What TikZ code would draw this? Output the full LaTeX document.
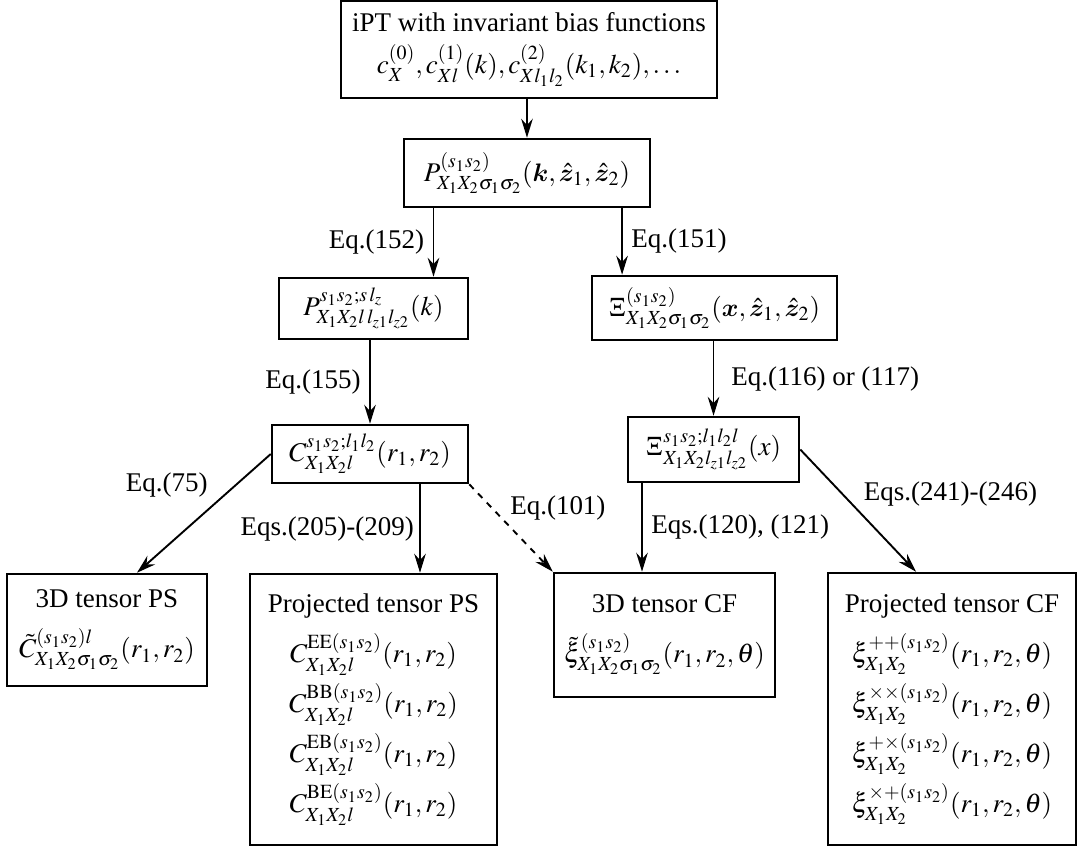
\documentclass[tikz,border=0pt]{standalone}
\usepackage{amsmath}
\usepackage{mathptmx}
\usepackage[no-math]{fontspec}
\setmainfont{Liberation Serif}
\usetikzlibrary{positioning,arrows.meta}
\DeclareMathAlphabet{\mathbfit}{OML}{cmm}{b}{it}

\tikzset{
  box/.style={draw, line width=1.2pt, align=center, inner sep=2pt},
  tallbox/.style={box, font=\fontsize{12.8}{23.7}\selectfont},
  flow/.style={->, line width=0.9pt},
  eqlabel/.style={inner sep=4pt}
}

\begin{document}
\begin{tikzpicture}[font=\fontsize{12.8}{15.4}\selectfont, >={Stealth[length=9pt,width=5.5pt,inset=3pt]}]
	\useasboundingbox (0,0) rectangle (18,-14.133);

	% boxes
	\node[box, minimum width=6.267cm, minimum height=1.617cm, font=\fontsize{12.8}{20}\selectfont] (ipt) at (8.817,-0.825)
		{iPT with invariant bias functions\\ $c_X^{(0)}, c_{Xl}^{(1)}(k), c_{Xl_1l_2}^{(2)}(k_1,k_2),\ldots$};
	\node[box, minimum width=4.1cm, minimum height=1.133cm] (pk) at (8.783,-2.883)
		{$P^{(s_1s_2)}_{X_1X_2\sigma_1\sigma_2}(\mathbfit{k},\hat{\mathbfit{z}}_1,\hat{\mathbfit{z}}_2)$};
	\node[box, minimum width=3.15cm, minimum height=1.017cm] (pl) at (6.225,-5.142)
		{$P^{s_1s_2;s\,l_z}_{X_1X_2l\,l_{z1}l_{z2}}(k)$};
	\node[box, minimum width=4.083cm, minimum height=1.067cm] (xix) at (11.908,-5.133)
		{$\Xi^{(s_1s_2)}_{X_1X_2\sigma_1\sigma_2}(\mathbfit{x},\hat{\mathbfit{z}}_1,\hat{\mathbfit{z}}_2)$};
	\node[box, minimum width=3.267cm, minimum height=0.967cm] (cl) at (6.167,-7.567)
		{$C^{s_1s_2;l_1l_2}_{X_1X_2l}(r_1,r_2)$};
	\node[box, minimum width=2.85cm, minimum height=1.083cm] (xil) at (11.892,-7.492)
		{$\Xi^{s_1s_2;l_1l_2l}_{X_1X_2l_{z1}l_{z2}}(x)$};

	\node[tallbox, minimum width=3.333cm, minimum height=1.867cm] (ps3d) at (1.783,-10.5)
		{3D tensor PS\\ $\tilde{C}^{(s_1s_2)l}_{X_1X_2\sigma_1\sigma_2}(r_1,r_2)$};
	\node[tallbox, minimum width=4.117cm, minimum height=4.517cm] (psproj) at (6.225,-11.825)
		{Projected tensor PS\\
		$C^{\mathrm{EE}(s_1s_2)}_{X_1X_2l}(r_1,r_2)$\\
		$C^{\mathrm{BB}(s_1s_2)}_{X_1X_2l}(r_1,r_2)$\\
		$C^{\mathrm{EB}(s_1s_2)}_{X_1X_2l}(r_1,r_2)$\\
		$C^{\mathrm{BE}(s_1s_2)}_{X_1X_2l}(r_1,r_2)$};
	\node[tallbox, minimum width=3.683cm, minimum height=2.067cm] (cf3d) at (11.075,-10.583)
		{3D tensor CF\\ $\tilde{\xi}^{(s_1s_2)}_{X_1X_2\sigma_1\sigma_2}(r_1,r_2,\theta)$};
	\node[tallbox, minimum width=4.133cm, minimum height=4.533cm] (cfproj) at (15.867,-11.817)
		{Projected tensor CF\\
		$\xi^{++(s_1s_2)}_{X_1X_2}(r_1,r_2,\theta)$\\
		$\xi^{\times\times(s_1s_2)}_{X_1X_2}(r_1,r_2,\theta)$\\
		$\xi^{+\times(s_1s_2)}_{X_1X_2}(r_1,r_2,\theta)$\\
		$\xi^{\times+(s_1s_2)}_{X_1X_2}(r_1,r_2,\theta)$};

	% arrow ends
	\coordinate (plin) at ([xshift=1cm]pl.north);
	\coordinate (xixin) at ([xshift=-1.54cm]xix.north);
	\coordinate (cout) at ([xshift=0.775cm]psproj.north);
	\coordinate (xilout) at ([xshift=-0.375cm]cf3d.north);

	% connectors
	\draw[flow] (pk.north |- ipt.south) -- (pk.north);
	\draw[flow] (plin |- pk.south) -- node[eqlabel, left] (e152) {Eq.(152)} (plin);
	\draw[flow] (xixin |- pk.south) -- node[eqlabel, right] (e151) {Eq.(151)} (xixin);
	\draw[flow] (cl.north |- pl.south) -- node[eqlabel, left] (e155) {Eq.(155)} (cl.north);
	\draw[flow] (xil.north |- xix.south) -- node[eqlabel, right=4pt] (e116) {Eq.(116) or (117)} (xil.north);
	\draw[flow] (cl.west) -- node[eqlabel, pos=0.26, left=9pt] (e75) {Eq.(75)} ([xshift=0.5cm]ps3d.north);
	\draw[flow] (cout |- cl.south) -- node[eqlabel, left=-1.5pt] (e205) {Eqs.(205)-(209)} (cout);
	\draw[flow, dashed] (cl.south east) -- node[eqlabel, pos=0.27, right=4.3pt] (e101) {Eq.(101)} (cf3d.north west);
	\draw[flow] (xilout |- xil.south) -- node[eqlabel, right] (e120) {Eqs.(120), (121)} (xilout);
	\draw[flow] (xil.east) -- node[eqlabel, pos=0.36, right=6pt] (e241) {Eqs.(241)-(246)} ([xshift=-0.6cm]cfproj.north);
\end{tikzpicture}
\end{document}
